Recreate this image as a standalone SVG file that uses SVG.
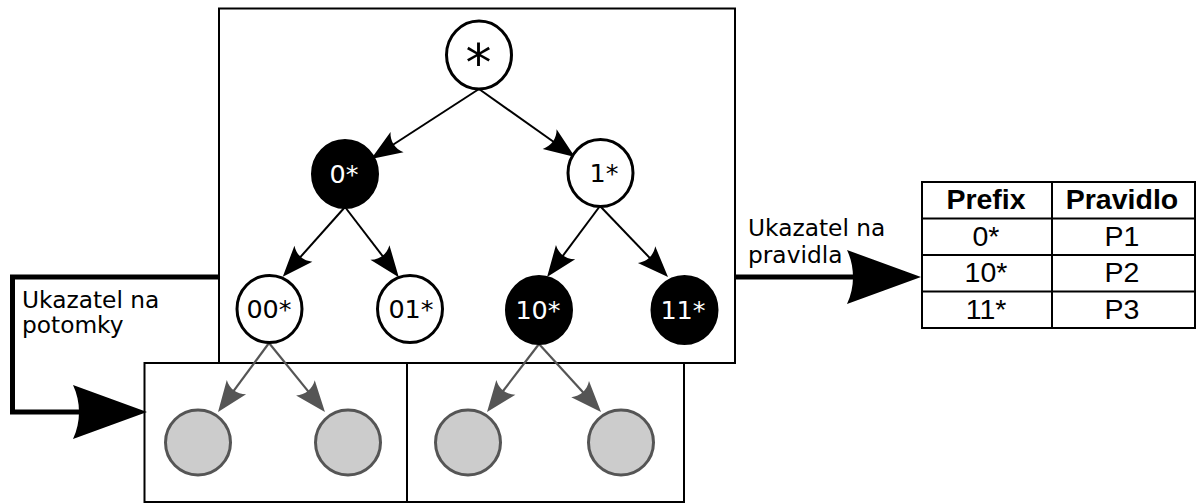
<svg xmlns="http://www.w3.org/2000/svg" width="1197" height="504" viewBox="0 0 1197 504">
<style>
.box{fill:none;stroke:#000;stroke-width:2}
.w{fill:#fff;stroke:#000;stroke-width:3}
.b{fill:#000;stroke:#000;stroke-width:3}
.g{fill:#ccc;stroke:#555;stroke-width:3}
.lbl{font-family:"DejaVu Sans",sans-serif;font-size:25.5px;text-anchor:middle}
.note{font-family:"DejaVu Sans",sans-serif;font-size:23.3px;fill:#000}
.tb{font-family:"Liberation Sans",Arial,sans-serif;font-size:28.5px;text-anchor:middle;fill:#000}
.e{fill:none;stroke:#000;stroke-width:2}
.eg{fill:none;stroke:#555;stroke-width:2.2}
.thick{fill:none;stroke:#000;stroke-width:5}
</style>
<defs>
<marker id="ah" markerUnits="userSpaceOnUse" orient="auto" overflow="visible" refX="0" refY="0" markerWidth="1" markerHeight="1">
<path d="M22,0 L-9,-12 C-3.5,-4.5 -3.5,4.5 -9,12 Z" fill="#000"/>
</marker>
<marker id="ahg" markerUnits="userSpaceOnUse" orient="auto" overflow="visible" refX="0" refY="0" markerWidth="1" markerHeight="1">
<path d="M22,0 L-9,-12 C-3.5,-4.5 -3.5,4.5 -9,12 Z" fill="#555"/>
</marker>
<marker id="big" markerUnits="userSpaceOnUse" orient="auto" overflow="visible" refX="0" refY="0" markerWidth="1" markerHeight="1">
<path d="M64,0 L-10,-27 C-2,-10 -2,10 -10,27 Z" fill="#000"/>
</marker>
</defs>
<rect fill="#fff" x="0" y="0" width="1197" height="504"/>
<g id="frames">
<rect class="box" x="219" y="8.5" width="516" height="354.5"/>
<rect class="box" x="144.5" y="363" width="262.5" height="139"/>
<rect class="box" x="407" y="363" width="277" height="139"/>
</g>
<g id="connectors">
<path class="e" d="M479,89 L389.5,147" marker-end="url(#ah)"/>
<path class="e" d="M479,89 L557,144.3" marker-end="url(#ah)"/>
<path class="e" d="M345,207 L297.4,260.4" marker-end="url(#ah)"/>
<path class="e" d="M345,207 L385.4,259.7" marker-end="url(#ah)"/>
<path class="e" d="M600,206 L560.2,259.4" marker-end="url(#ah)"/>
<path class="e" d="M600,206 L652.8,261.1" marker-end="url(#ah)"/>
<path class="eg" d="M269,343 L231.1,394.3" marker-end="url(#ahg)"/>
<path class="eg" d="M269,343 L311.1,394.9" marker-end="url(#ahg)"/>
<path class="eg" d="M539,344 L500.4,394.5" marker-end="url(#ahg)"/>
<path class="eg" d="M539,344 L586.2,395.7" marker-end="url(#ahg)"/>
<path class="thick" d="M219,277 H12.5 V412 H83" marker-end="url(#big)"/>
<path class="thick" d="M735,277 H857" marker-end="url(#big)"/>
</g>
<g id="n-root"><ellipse class="w" cx="479" cy="55" rx="32.5" ry="34"/><text class="lbl" x="478.5" y="81" style="font-size:52px">*</text></g>
<g id="n-0"><ellipse class="b" cx="345" cy="174" rx="32.5" ry="33.5"/><text class="lbl" x="344" y="183" fill="#fff">0*</text></g>
<g id="n-1"><ellipse class="w" cx="600.5" cy="173" rx="32.5" ry="33.5"/><text class="lbl" x="604" y="181.5" fill="#000">1*</text></g>
<g id="n-00"><ellipse class="w" cx="269.5" cy="309" rx="32.5" ry="33.5"/><text class="lbl" x="269" y="318" fill="#000">00*</text></g>
<g id="n-01"><ellipse class="w" cx="410" cy="309" rx="32.5" ry="33.5"/><text class="lbl" x="411" y="318" fill="#000">01*</text></g>
<g id="n-10"><ellipse class="b" cx="539" cy="310" rx="32.5" ry="33.5"/><text class="lbl" x="538" y="318.5" fill="#fff">10*</text></g>
<g id="n-11"><ellipse class="b" cx="684.5" cy="310" rx="32.5" ry="33.5"/><text class="lbl" x="683" y="318.5" fill="#fff">11*</text></g>
<g id="n-g1"><ellipse class="g" cx="198" cy="442.5" rx="32.5" ry="32.5"/></g>
<g id="n-g2"><ellipse class="g" cx="348" cy="442.5" rx="32.5" ry="32.5"/></g>
<g id="n-g3"><ellipse class="g" cx="468" cy="442.5" rx="32.5" ry="32.5"/></g>
<g id="n-g4"><ellipse class="g" cx="621" cy="442.5" rx="32.5" ry="32.5"/></g>
<g id="note-left"><text class="note" x="22" y="308">Ukazatel na</text><text class="note" x="22" y="333">potomky</text></g>
<g id="note-right"><text class="note" x="748" y="236">Ukazatel na</text><text class="note" x="748" y="263">pravidla</text></g>
<g id="table">
<rect x="922" y="182" width="273" height="146" fill="#fff" stroke="#000" stroke-width="2"/>
<path d="M922,218.5 H1195 M922,255 H1195 M922,291.5 H1195 M1052,182 V328" stroke="#000" stroke-width="2" fill="none"/>
<text class="tb" x="986" y="208.5" font-weight="bold">Prefix</text>
<text class="tb" x="1122" y="208.5" font-weight="bold">Pravidlo</text>
<text class="tb" x="986" y="245.5">0*</text>
<text class="tb" x="1122" y="245.5">P1</text>
<text class="tb" x="986" y="282">10*</text>
<text class="tb" x="1122" y="282">P2</text>
<text class="tb" x="986" y="318.5">11*</text>
<text class="tb" x="1122" y="318.5">P3</text>
</g>
</svg>
